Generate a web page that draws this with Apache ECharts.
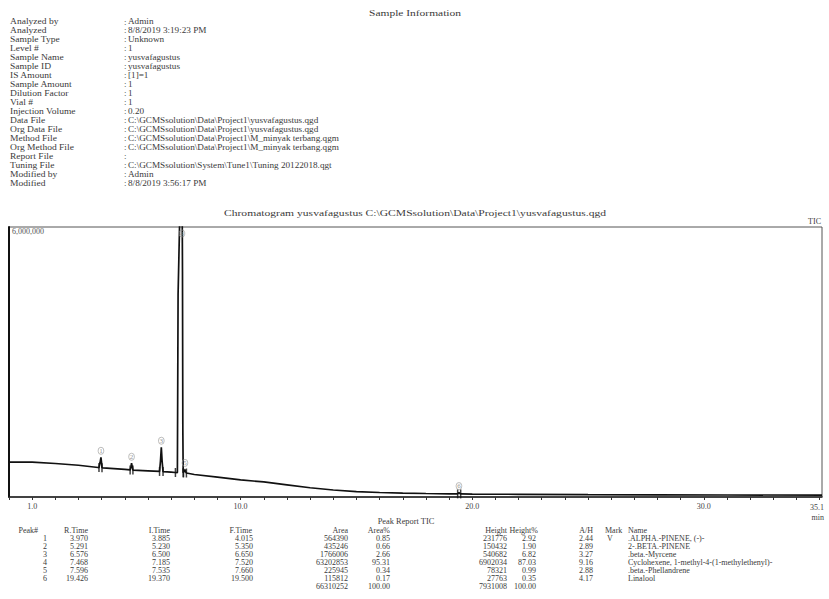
<!DOCTYPE html>
<html><head><meta charset="utf-8">
<script src="https://cdn.jsdelivr.net/npm/echarts@6/dist/echarts.min.js"></script>
<style>html,body{margin:0;padding:0;background:#fff}#c{width:829px;height:599px}</style>
</head><body><div id="c"></div>
<script>
// ---------- data ----------
const infoTitle = 'Sample Information';
const infoLabels = ['Analyzed by','Analyzed','Sample Type','Level #','Sample Name','Sample ID','IS Amount','Sample Amount','Dilution Factor','Vial #','Injection Volume','Data File','Org Data File','Method File','Org Method File','Report File','Tuning File','Modified by','Modified'];
const infoValues = ['Admin','8/8/2019 3:19:23 PM','Unknown','1','yusvafagustus','yusvafagustus','[1]=1','1','1','1','0.20',
  'C:\\GCMSsolution\\Data\\Project1\\yusvafagustus.qgd','C:\\GCMSsolution\\Data\\Project1\\yusvafagustus.qgd',
  'C:\\GCMSsolution\\Data\\Project1\\M_minyak terbang.qgm','C:\\GCMSsolution\\Data\\Project1\\M_minyak terbang.qgm','',
  'C:\\GCMSsolution\\System\\Tune1\\Tuning 20122018.qgt','Admin','8/8/2019 3:56:17 PM'];
const chartTitle = 'Chromatogram yusvafagustus C:\\GCMSsolution\\Data\\Project1\\yusvafagustus.qgd';
const channelLabel = 'TIC';
const yMaxLabel = '6,000,000';
const xLabelTicks = [1, 10, 20, 30];
const xEndLabel = '35.1';
const xUnit = 'min';

// TIC signal (time in min, intensity in counts)
const sigT = [0, 1.0, 2.0, 3.0, 3.85, 3.885, 3.93, 3.97, 4.0, 4.015, 4.06, 5.0, 5.23, 5.27, 5.291, 5.32, 5.35, 6.0, 6.5, 6.54, 6.576, 6.61, 6.65, 7.0, 7.185, 7.27, 7.30, 7.40, 7.468, 7.49, 7.505, 7.52, 7.535, 7.57, 7.596, 7.62, 7.66, 8.0, 9.0, 10.0, 11.0, 12.0, 13.0, 14.0, 15.0, 16.0, 17.0, 18.0, 19.0, 19.37, 19.40, 19.426, 19.45, 19.5, 20.0, 22.0, 25.0, 28.0, 31.0, 35.1];
const sigI = [775000, 775000, 745000, 705000, 656000, 654000, 760000, 882000, 740000, 650000, 648000, 615000, 602000, 680000, 750000, 670000, 598000, 582000, 568000, 800000, 1106000, 800000, 564000, 552000, 545000, 543000, 4500000, 6900000, 7442000, 5000000, 1500000, 537000, 536000, 575000, 613000, 565000, 533000, 500000, 440000, 380000, 335000, 270000, 205000, 155000, 120000, 100000, 88000, 78000, 71000, 70000, 84000, 98000, 82000, 69000, 65000, 60000, 52000, 48000, 45000, 42000];

// Peak report
const peakNo = [1, 2, 3, 4, 5, 6];
const rTime = [3.970, 5.291, 6.576, 7.468, 7.596, 19.426];
const iTime = [3.885, 5.230, 6.500, 7.185, 7.535, 19.370];
const fTime = [4.015, 5.350, 6.650, 7.520, 7.660, 19.500];
const area = [564390, 435246, 1766006, 63202853, 225945, 115812];
const areaPct = [0.85, 0.66, 2.66, 95.31, 0.34, 0.17];
const height = [231776, 150432, 540682, 6902034, 78321, 27763];
const heightPct = [2.92, 1.90, 6.82, 87.03, 0.99, 0.35];
const aOverH = [2.44, 2.89, 3.27, 9.16, 2.88, 4.17];
const mark = ['V', '', '', '', '', ''];
const names = ['.ALPHA.-PINENE, (-)-', '2-.BETA.-PINENE', '.beta.-Myrcene', 'Cyclohexene, 1-methyl-4-(1-methylethenyl)-', '.beta.-Phellandrene', 'Linalool'];
const reportTitle = 'Peak Report TIC';

// ---------- build ----------
const FONT = '"Liberation Serif","Times New Roman",serif';
const TXT = '#3a3a3a';
const yMax = 6000000;
const chart = echarts.init(document.getElementById('c'), null, {renderer: 'svg'});

const graphics = [];
function txt(x, y, text, align, size, sx) {
  graphics.push({type: 'text', x: x, y: y, scaleX: sx || 1, silent: true,
    style: {text: text, fill: TXT, font: (size || 8.5) + 'px ' + FONT, align: align || 'left', verticalAlign: 'middle'}});
}
txt(415, 13.5, infoTitle, 'center', 8.5, 1.35);
infoLabels.forEach((l, i) => {
  const y = 21.5 + i * 8.95;
  txt(10, y, l, 'left', 9, 1.06);
  txt(124, y, ':', 'left', 9);
  txt(128, y, infoValues[i], 'left', 9, 1.02);
});
txt(415, 213, chartTitle, 'center', 8, 1.45);
txt(821, 221, channelLabel, 'right', 8);

// table
const cols = [
  {h: 'Peak#', hx: 38, vx: 47, a: 'right', v: i => String(peakNo[i])},
  {h: 'R.Time', hx: 88, vx: 88, a: 'right', v: i => rTime[i].toFixed(3)},
  {h: 'I.Time', hx: 170, vx: 170, a: 'right', v: i => iTime[i].toFixed(3)},
  {h: 'F.Time', hx: 252, vx: 253, a: 'right', v: i => fTime[i].toFixed(3)},
  {h: 'Area', hx: 348, vx: 348, a: 'right', v: i => String(area[i])},
  {h: 'Area%', hx: 390, vx: 390, a: 'right', v: i => areaPct[i].toFixed(2)},
  {h: 'Height', hx: 507, vx: 507, a: 'right', v: i => String(height[i])},
  {h: 'Height%', hx: 538, vx: 536, a: 'right', v: i => heightPct[i].toFixed(2)},
  {h: 'A/H', hx: 593, vx: 593, a: 'right', v: i => aOverH[i].toFixed(2)},
  {h: 'Mark', hx: 605, vx: 607, a: 'left', v: i => mark[i]},
  {h: 'Name', hx: 628, vx: 628, a: 'left', v: i => names[i]}
];
txt(406, 522, reportTitle, 'center', 8, 1.05);
const hy = 530.5, ry0 = 538.5, rdy = 8;
cols.forEach(c => {
  txt(c.hx, hy, c.h, c.a, 8);
  peakNo.forEach((p, i) => txt(c.vx, ry0 + i * rdy, c.v(i), c.a, 8));
});
const totY = ry0 + peakNo.length * rdy;
txt(348, totY, String(area.reduce((a, b) => a + b, 0)), 'right', 8);
txt(390, totY, '100.00', 'right', 8);
txt(507, totY, String(height.reduce((a, b) => a + b, 0)), 'right', 8);
txt(536, totY, '100.00', 'right', 8);

const signal = sigT.map((t, i) => [t, sigI[i]]);
const apexVal = rTime.map(t => sigI[sigT.indexOf(t)]);
const labelData = rTime.map((t, i) => ({
  value: [t, Math.min(apexVal[i], yMax)],
  label: {position: apexVal[i] > yMax ? 'bottom' : 'top'}
}));
const markerData = [];
iTime.forEach(t => { const k = sigT.indexOf(t); if (k >= 0) markerData.push([t, sigI[k]]); });
fTime.forEach(t => { const k = sigT.indexOf(t); if (k >= 0) markerData.push([t, sigI[k]]); });

chart.setOption({
  animation: false,
  backgroundColor: '#fff',
  grid: {left: 9, right: 7, top: 227, bottom: 102, show: true, borderColor: '#555', borderWidth: 1, backgroundColor: 'transparent'},
  xAxis: [{
    type: 'value', min: 0, max: 35.1, interval: 1, position: 'bottom',
    axisLine: {show: true, lineStyle: {color: '#222', width: 1.5}},
    axisTick: {show: true, length: 3, lineStyle: {color: '#333', width: 1}},
    splitLine: {show: false},
    axisLabel: {show: true, margin: 5, fontSize: 8, fontFamily: FONT, color: '#444', showMaxLabel: false,
      formatter: v => xLabelTicks.indexOf(Math.round(v * 10) / 10) >= 0 ? v.toFixed(1) : ''}
  }, {
    type: 'value', min: 0, max: 35.1, interval: 35.1, position: 'bottom', offset: 0,
    axisLine: {show: false}, axisTick: {show: false}, splitLine: {show: false},
    axisLabel: {show: true, margin: 5, align: 'right', padding: [0, -2, 0, 0], fontSize: 8, fontFamily: FONT, color: '#444', lineHeight: 10, showMinLabel: false,
      formatter: v => v > 35 ? xEndLabel + '\n' + xUnit : ''}
  }],
  yAxis: {
    type: 'value', min: 0, max: yMax, interval: yMax,
    axisLine: {show: true, lineStyle: {color: '#111', width: 2}},
    axisTick: {show: false}, splitLine: {show: false},
    axisLabel: {show: true, inside: true, margin: 3, verticalAlign: 'top', fontSize: 8, fontFamily: FONT, color: '#555',
      formatter: v => v >= yMax ? yMaxLabel : ''}
  },
  series: [{
    type: 'line', data: signal, showSymbol: false, symbol: 'none', clip: true,
    lineStyle: {color: '#111', width: 1.7}, z: 3
  }, {
    type: 'scatter', data: markerData, symbol: 'rect', symbolSize: [1.5, 9],
    itemStyle: {color: '#111'}, z: 4, silent: true
  }, {
    type: 'scatter', data: labelData, symbolSize: 0, silent: true, z: 5,
    label: {show: true, distance: 3, fontSize: 7, fontFamily: FONT, color: '#777',
      borderColor: '#999', borderWidth: 0.8, borderRadius: 4, padding: [0, 1, 0, 1],
      formatter: p => String(peakNo[p.dataIndex])}
  }],
  graphic: graphics
});
</script></body></html>
